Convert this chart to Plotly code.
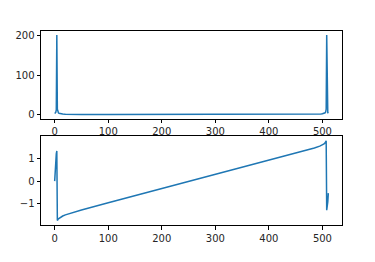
import plotly.graph_objects as go

# FFT bins (sampled positions) and read-off values
mag_bins = [0, 1, 2, 3, 4, 5, 6, 7, 8, 10, 12, 15, 20, 30, 50, 100, 150, 200, 256,
            312, 362, 412, 462, 482, 492, 497, 500, 502, 504, 505, 506, 507, 508, 509, 510, 511]
mag_vals = [3.0, 4.0, 6.0, 12.0, 201.0, 14.0, 7.0, 5.0, 4.0, 3.0, 2.5, 2.0, 1.5, 1.0, 0.7, 0.5, 0.45, 0.4, 0.4,
            0.4, 0.45, 0.5, 0.7, 1.0, 1.5, 2.0, 2.5, 3.0, 4.0, 5.0, 7.0, 14.0, 201.0, 12.0, 6.0, 4.0]

ph_bins = [0, 1, 2, 3, 4, 5, 6, 7, 8, 10, 12, 15, 20, 30, 50, 100, 150, 200, 250,
           300, 350, 400, 450, 470, 485, 495, 500, 503, 505, 506, 507, 508, 509, 510, 511]
ph_vals = [0.0, 0.55, 0.95, 1.2, 1.33, -1.74, -1.69, -1.66, -1.64, -1.61, -1.58, -1.54, -1.49, -1.41, -1.27,
           -0.95, -0.64, -0.33, -0.02, 0.295, 0.605, 0.915, 1.23, 1.36, 1.46, 1.54, 1.59, 1.64, 1.69, 1.73, 1.78,
           -1.28, -1.15, -0.92, -0.53]

x_ticks = [0, 100, 200, 300, 400, 500]
top_y_ticks = [0, 100, 200]
bot_y_ticks = [-1, 0, 1]

W, H = 375, 262
xl, xr = 41 / W, 342 / W
top_dom = [1 - 119 / H, 1 - 30.5 / H]
bot_dom = [1 - 226.7 / H, 1 - 137 / H]

line = dict(color="#1f77b4", width=1.5)

fig = go.Figure()
fig.add_trace(go.Scatter(x=mag_bins, y=mag_vals, mode="lines", line=line, xaxis="x", yaxis="y"))
fig.add_trace(go.Scatter(x=ph_bins, y=ph_vals, mode="lines", line=line, xaxis="x2", yaxis="y2"))

axis_common = dict(showline=True, linecolor="black", linewidth=1, mirror=True,
                   ticks="outside", ticklen=3.5, tickwidth=1, tickcolor="black",
                   showgrid=False, zeroline=False,
                   tickfont=dict(family="DejaVu Sans", size=10, color="#262626"))

fig.update_layout(
    width=W, height=H, margin=dict(l=0, r=0, t=0, b=0),
    paper_bgcolor="white", plot_bgcolor="white", showlegend=False,
    xaxis=dict(domain=[xl, xr], anchor="y", range=[-25.55, 536.55], tickvals=x_ticks, **axis_common),
    yaxis=dict(domain=top_dom, anchor="x", range=[-9.7, 211], tickvals=top_y_ticks, **axis_common),
    xaxis2=dict(domain=[xl, xr], anchor="y2", range=[-25.55, 536.55], tickvals=x_ticks, **axis_common),
    yaxis2=dict(domain=bot_dom, anchor="x2", range=[-1.94, 1.97], tickvals=bot_y_ticks,
                tickformat="d", **axis_common),
)
fig.write_html("out.html")
